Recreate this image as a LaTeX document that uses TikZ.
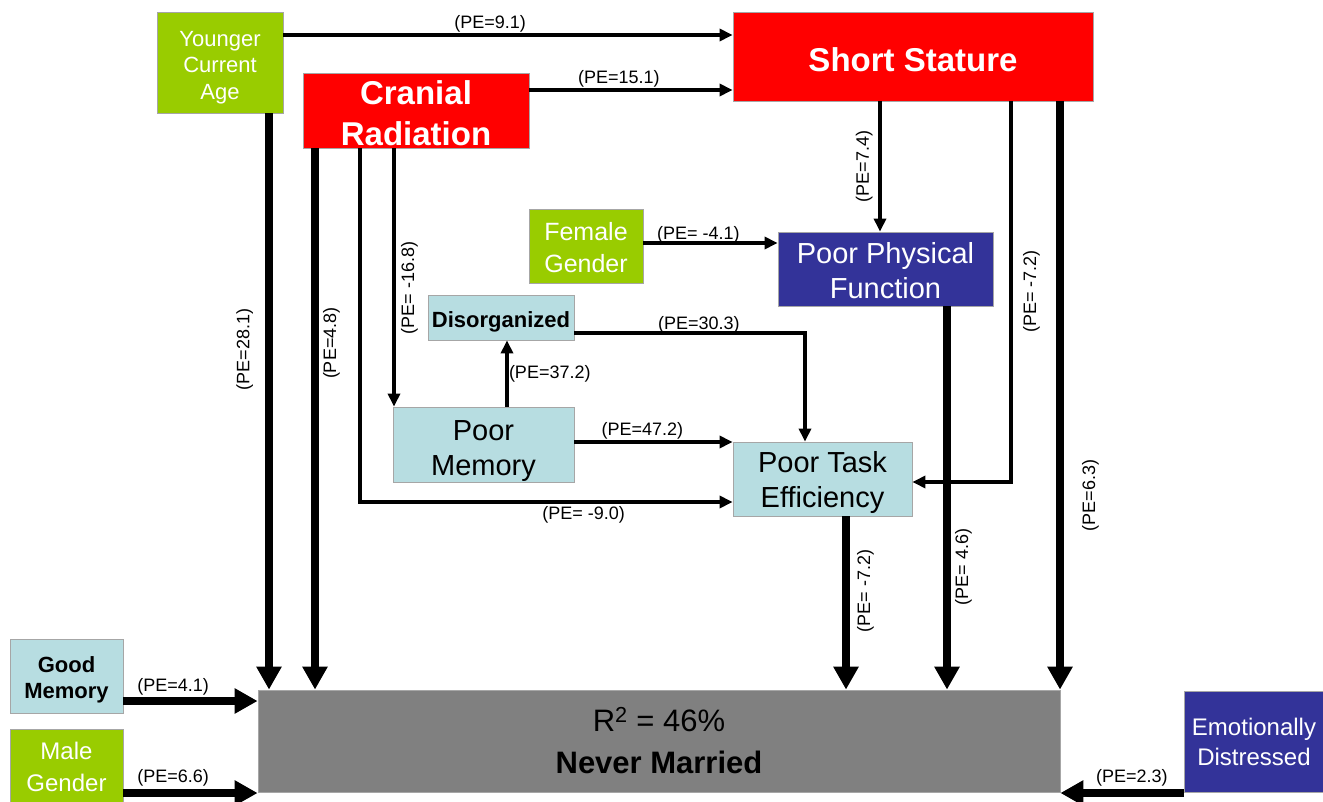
\documentclass[tikz,border=0pt]{standalone}
\usepackage{fontspec}
\setmainfont{Liberation Sans}
\usetikzlibrary{arrows.meta}

\definecolor{boxgreen}{RGB}{153,204,0}
\definecolor{boxred}{RGB}{255,0,0}
\definecolor{boxblue}{RGB}{51,51,153}
\definecolor{boxcyan}{RGB}{183,221,225}
\definecolor{boxgray}{RGB}{128,128,128}
\newcommand{\setfs}[2]{\fontsize{#1pt}{#2pt}\selectfont}
\newcommand{\toppad}[1]{\rule{0pt}{#1pt}}

\begin{document}
\begin{tikzpicture}[x=1pt, y=-1pt,
   box/.style={draw=gray!70, line width=0.8pt, inner sep=0pt, align=center},
   conn/.style={line width=4pt, -{Triangle[length=13pt,width=12pt]}},
   bigconn/.style={line width=8pt, -{Triangle[length=23pt,width=24pt]}},
   pe/.style={font=\setfs{18}{21}, inner sep=0pt},
   pev/.style={pe, rotate=90}]
\useasboundingbox (0,0) rectangle (1323,802);

% Boxes
\node[box, fill=boxgreen, text=white, minimum width=126pt, minimum height=101pt, font=\setfs{22}{26.5}] (age) at (220,62.5) {\toppad{25.5}Younger\\Current\\Age};
\node[box, fill=boxred, text=white, minimum width=360pt, minimum height=89pt, font=\bfseries\setfs{33}{40}] (short) at (913,56.5) {\toppad{30.5}Short Stature};
\node[box, fill=boxred, text=white, minimum width=226pt, minimum height=75pt, font=\bfseries\setfs{33}{41}] (cranial) at (416,110.5) {\toppad{29.5}Cranial\\Radiation};
\node[box, fill=boxgreen, text=white, minimum width=114pt, minimum height=74pt, font=\setfs{25}{32}] (female) at (586,246) {\toppad{22}Female\\Gender};
\node[box, fill=boxblue, text=white, minimum width=215pt, minimum height=74pt, font=\setfs{29}{35}] (phys) at (885.5,269) {\toppad{24}Poor Physical\\Function};
\node[box, fill=boxcyan, minimum width=146pt, minimum height=45pt, font=\bfseries\setfs{22}{25}] (disorg) at (501,317.5) {\toppad{25}Disorganized};
\node[box, fill=boxcyan, minimum width=181pt, minimum height=75pt, font=\setfs{29}{35}] (mem) at (483.5,444.5) {\toppad{32.5}Poor\\Memory};
\node[box, fill=boxcyan, minimum width=179pt, minimum height=74pt, font=\setfs{29}{35}] (task) at (822.5,479) {\toppad{28.5}Poor Task\\Efficiency};
\node[box, fill=boxcyan, minimum width=113pt, minimum height=74pt, font=\bfseries\setfs{22}{26}] (good) at (66.5,676) {\toppad{23.5}Good\\Memory};
\node[box, fill=boxgreen, text=white, minimum width=113pt, minimum height=76pt, font=\setfs{24}{32}] (male) at (66.5,767) {Male\\Gender};
\node[box, fill=boxgray, minimum width=802pt, minimum height=102pt, font=\setfs{31}{42}] (never) at (659,741) {R\textsuperscript{2} = 46\%\\\textbf{Never Married}};
\node[box, fill=boxblue, text=white, minimum width=140pt, minimum height=101pt, font=\setfs{24}{30}] (emo) at (1254,741.5) {Emotionally\\Distressed};

% Thin paths
\draw[conn] ([yshift=27.5pt]age.east) -- ([yshift=27.5pt]age.east -| short.west)
   node[pe, pos=0.46, anchor=south, outer sep=3pt] {(PE=9.1)};
\draw[conn] ([yshift=20.5pt]cranial.east) -- ([yshift=20.5pt]cranial.east -| short.west)
   node[pe, pos=0.44, anchor=south, outer sep=3pt] {(PE=15.1)};
\draw[conn] ([xshift=-33pt]short.south) -- ([xshift=-33pt]short.south |- phys.north)
   node[pev, midway, anchor=south, outer sep=7.5pt] {(PE=7.4)};
\draw[conn] ([yshift=3pt]female.east) -- ([yshift=3pt]female.east -| phys.west)
   node[pe, pos=0.41, anchor=south, outer sep=0pt] {(PE= -4.1)};
\draw[conn] ([xshift=-22pt]cranial.south) -- ([xshift=-22pt]cranial.south |- mem.north)
   node[pev, pos=0.54, anchor=north, outer sep=7pt] {(PE= -16.8)};
\draw[conn] ([xshift=23.5pt]mem.north) -- ([xshift=23.5pt]mem.north |- disorg.south)
   node[pe, midway, anchor=west, outer sep=2pt] {(PE=37.2)};
\draw[conn] ([yshift=-15.5pt]disorg.east) -| ([xshift=-17.5pt]task.north)
   node[pe, pos=0.27, anchor=south, outer sep=0pt] {(PE=30.3)};
\draw[conn] ([yshift=2.5pt]mem.east) -- ([yshift=2.5pt]mem.east -| task.west)
   node[pe, pos=0.43, anchor=south, outer sep=3pt] {(PE=47.2)};
\draw[conn] ([xshift=-56pt]cranial.south) |- ([yshift=-23pt]task.west)
   node[pe, pos=0.8, anchor=north, outer sep=4pt] {(PE= -9.0)};
\draw[conn] ([xshift=98pt]short.south) |- ([yshift=-3pt]task.east)
   node[pev, pos=0.25, anchor=north, outer sep=12pt] {(PE= -7.2)};

% Thick paths into the outcome
\draw[bigconn] ([xshift=49pt]age.south) -- ([xshift=49pt]age.south |- never.north)
   node[pev, pos=0.41, anchor=south, outer sep=16pt] {(PE=28.1)};
\draw[bigconn] ([xshift=-101pt]cranial.south) -- ([xshift=-101pt]cranial.south |- never.north)
   node[pev, pos=0.36, anchor=north, outer sep=8pt] {(PE=4.8)};
\draw[bigconn] ([xshift=23.5pt]task.south) -- ([xshift=23.5pt]task.south |- never.north)
   node[pev, pos=0.43, anchor=north, outer sep=11pt] {(PE= -7.2)};
\draw[bigconn] ([xshift=61.5pt]phys.south) -- ([xshift=61.5pt]phys.south |- never.north)
   node[pev, pos=0.68, anchor=north, outer sep=8pt] {(PE= 4.6)};
\draw[bigconn] ([xshift=147pt]short.south) -- ([xshift=147pt]short.south |- never.north)
   node[pev, pos=0.67, anchor=north, outer sep=22pt] {(PE=6.3)};
\draw[bigconn] ([yshift=-25pt]good.east) -- ([yshift=-25pt]good.east -| never.west)
   node[pe, pos=0.37, anchor=south, outer sep=6pt] {(PE=4.1)};
\draw[bigconn] ([yshift=-26pt]male.east) -- ([yshift=-26pt]male.east -| never.west)
   node[pe, pos=0.37, anchor=south, outer sep=7pt] {(PE=6.6)};
\draw[bigconn] ([yshift=-51.5pt]emo.west) -- ([yshift=-51.5pt]emo.west -| never.east)
   node[pe, pos=0.42, anchor=south, outer sep=7pt] {(PE=2.3)};
\end{tikzpicture}
\end{document}
